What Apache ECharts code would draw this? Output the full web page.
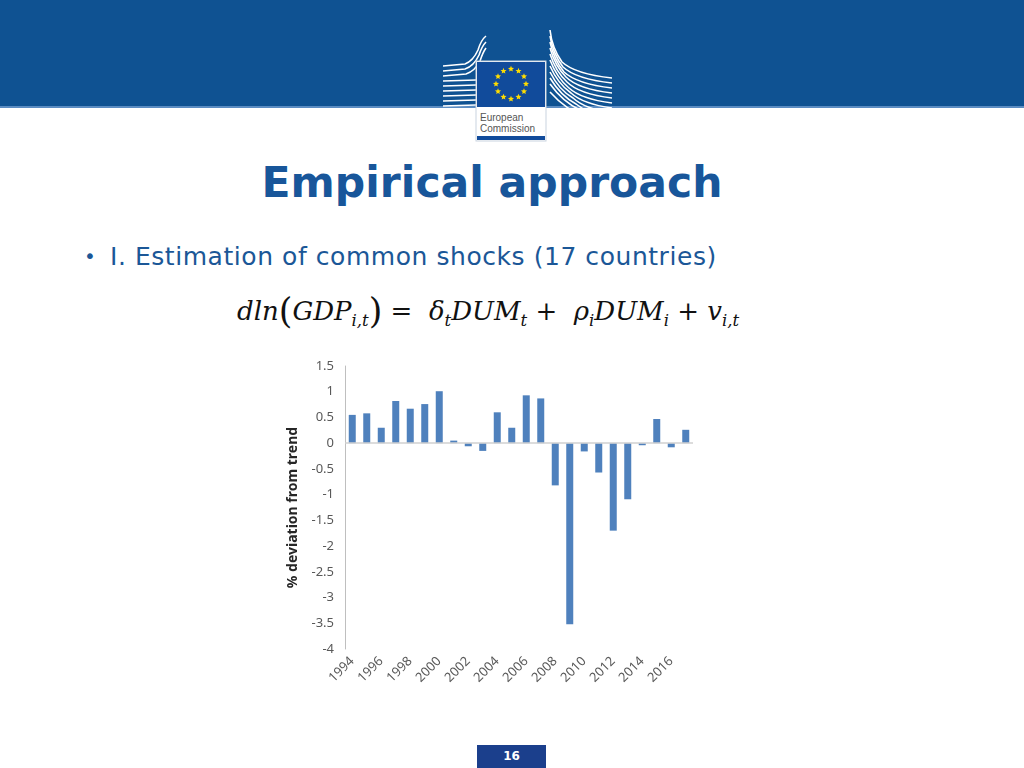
<!DOCTYPE html>
<html>
<head>
<meta charset="utf-8">
<script src="https://cdn.jsdelivr.net/npm/echarts@6/dist/echarts.min.js"></script>
<style>
  html, body { margin: 0; padding: 0; width: 1024px; height: 768px; overflow: hidden; background: #fff; }
  #band { position: absolute; left: 0; top: 0; width: 1024px; height: 106px; background: #0f5292; border-bottom: 2px solid #5b8cc2; }
  #logo { position: absolute; left: 440px; top: 28px; }
  #title { position: absolute; left: 0; width: 984px; top: 158px; text-align: center; font-family: "DejaVu Sans", sans-serif; font-weight: bold; font-size: 42.5px; color: #18569a; }
  #bullet { position: absolute; left: 84px; top: 242px; font-family: "DejaVu Sans", sans-serif; font-size: 25px; letter-spacing: 0.55px; color: #1b5797; }
  #bullet span { display: inline-block; width: 26px; font-size: 20px; vertical-align: 2px; }
  #eq { position: absolute; left: 237px; top: 291px; font-family: "DejaVu Serif", serif; font-style: italic; font-size: 26px; color: #111; white-space: nowrap; }
  #eq sub { font-size: 16.5px; vertical-align: -6px; }
  #eq .p { font-style: normal; font-size: 35px; vertical-align: -3px; font-weight: 200; }
  #page { position: absolute; left: 477px; top: 745px; width: 69px; height: 23px; background: #1b3f8c; color: #fff; font-family: "DejaVu Sans", sans-serif; font-weight: bold; font-size: 12px; text-align: center; line-height: 22px; }
  #chart { position: absolute; left: 0; top: 0; width: 1024px; height: 768px; }
</style>
</head>
<body>
<div id="band"></div>
<svg id="logo" width="180" height="120" viewBox="0 0 180 120">
  <g stroke="#fff" stroke-width="1.6" fill="none">
    <path d="M3 38 L25 36 Q33 33 38 22 Q41 12 46 8"/>
    <path d="M3 43 L25 41 Q34 38 39 27 Q42 18 46 14"/>
    <path d="M3 48 L26 46 Q35 43 40 33 Q43 24 46 20"/>
    <path d="M3 53 L36 52"/>
    <path d="M3 58 L36 57"/>
    <path d="M3 63 L36 62"/>
    <path d="M3 68 L36 67"/>
    <path d="M3 73 L36 72"/>
    <path d="M3 78 L36 77"/>
    <path d="M3 83 L36 83"/>
    <path d="M3 88 L36 88"/>
    <path d="M3 93 L36 93"/>
    <path d="M3 98 L36 98"/>
    <path d="M110 2 Q112 20 122 34 Q135 46 172 50"/>
    <path d="M110 8 Q113 26 123 39 Q136 51 172 55"/>
    <path d="M110 14 Q114 32 124 44 Q137 56 172 60"/>
    <path d="M110 20 Q115 38 126 49 Q138 61 172 65"/>
    <path d="M110 26 Q116 44 127 54 Q139 66 172 70"/>
    <path d="M110 32 Q117 50 129 60 Q141 71 172 75"/>
    <path d="M110 38 Q118 56 131 65 Q143 76 172 80"/>
    <path d="M110 44 Q119 62 133 70 Q145 81 172 85"/>
    <path d="M110 50 Q121 68 136 76 Q148 86 172 90"/>
    <path d="M110 56 Q123 74 140 82 Q152 91 172 95"/>
    <path d="M110 64 Q126 82 146 89 Q156 96 172 100"/>
  </g>
  <rect x="36" y="33" width="70" height="80" fill="#fff" stroke="#c9d3df" stroke-width="1"/>
  <rect x="37" y="34" width="68" height="45" fill="#114b9b"/>
  <g id="stars" fill="#ffdd00"></g>
  <text x="40" y="93" font-family="Liberation Sans Narrow, Liberation Sans, sans-serif" font-size="10" fill="#555">European</text>
  <text x="40" y="104" font-family="Liberation Sans Narrow, Liberation Sans, sans-serif" font-size="10" fill="#555">Commission</text>
  <rect x="37" y="108" width="68" height="4" fill="#114b9b"/>
</svg>
<div id="title">Empirical approach</div>
<div id="bullet"><span>•</span>I. Estimation of common shocks (17 countries)</div>
<div id="eq">dln<span class="p">(</span>GDP<sub>i,t</sub><span class="p">)</span> = &nbsp;δ<sub>t</sub>DUM<sub>t</sub> + &nbsp;ρ<sub>i</sub>DUM<sub>i</sub> + v<sub>i,t</sub></div>
<div id="page">16</div>
<div id="chart"></div>
<script>
// EU flag stars
var g = document.getElementById("stars");
for (var k = 0; k < 12; k++) {
  var a = k * Math.PI / 6;
  var cx = 71 + 15 * Math.cos(a), cy = 56 + 15 * Math.sin(a);
  var pts = [];
  for (var j = 0; j < 10; j++) {
    var r = j % 2 ? 1.4 : 3.2;
    var b = -Math.PI / 2 + j * Math.PI / 5;
    pts.push((cx + r * Math.cos(b)).toFixed(2) + "," + (cy + r * Math.sin(b)).toFixed(2));
  }
  var p = document.createElementNS("http://www.w3.org/2000/svg", "polygon");
  p.setAttribute("points", pts.join(" "));
  g.appendChild(p);
}

// chart data
var years = ["1994", "1995", "1996", "1997", "1998", "1999", "2000", "2001",
  "2002", "2003", "2004", "2005", "2006", "2007", "2008", "2009", "2010",
  "2011", "2012", "2013", "2014", "2015", "2016", "2017"];
var deviation = [0.55, 0.58, 0.30, 0.82, 0.67, 0.76, 1.01, 0.05,
  -0.06, -0.15, 0.60, 0.30, 0.93, 0.87, -0.82, -3.52, -0.16,
  -0.57, -1.70, -1.09, -0.04, 0.47, -0.08, 0.26];
var yTicks = { min: -4, max: 1.5, step: 0.5 };

var chart = echarts.init(document.getElementById("chart"));
var labelFont = { fontFamily: "Noto Sans", fontSize: 13, color: "#595959" };

chart.setOption({
  animation: false,
  grid: { left: 345, top: 366, width: 348, height: 283, containLabel: false },
  xAxis: {
    type: "category",
    data: years,
    axisLine: { onZero: false, show: false },
    axisTick: { show: false },
    axisLabel: Object.assign({ interval: 1, rotate: 45, margin: 10 }, labelFont)
  },
  yAxis: {
    type: "value",
    min: yTicks.min,
    max: yTicks.max,
    interval: yTicks.step,
    name: "% deviation from trend",
    nameLocation: "middle",
    nameGap: 45,
    nameTextStyle: { fontFamily: "Noto Sans", fontWeight: "bold", fontSize: 14, color: "#262626" },
    axisLine: { show: true, lineStyle: { color: "#bfbfbf", width: 1 } },
    axisTick: { show: false },
    splitLine: { show: false },
    axisLabel: Object.assign({ margin: 11 }, labelFont)
  },
  series: [{
    type: "bar",
    data: deviation,
    barWidth: 7,
    itemStyle: { color: "#4f81bd" },
    markLine: {
      silent: true,
      symbol: "none",
      label: { show: false },
      lineStyle: { color: "#d0d0d0", width: 1.5, type: "solid" },
      data: [{ yAxis: 0 }]
    }
  }]
});
</script>
</body>
</html>
